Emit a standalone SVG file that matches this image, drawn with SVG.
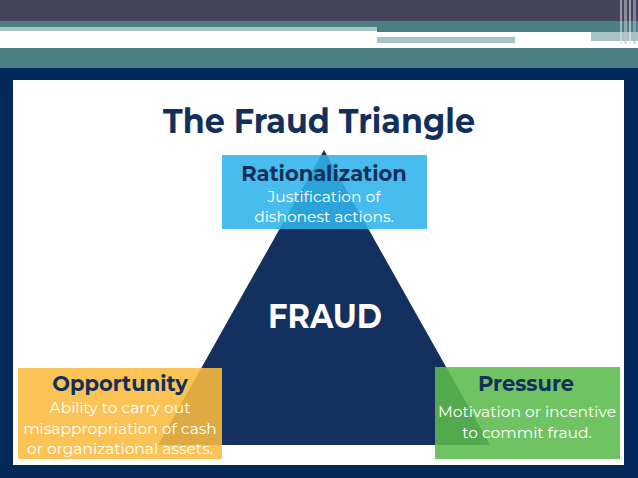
<svg xmlns="http://www.w3.org/2000/svg" width="638" height="478" viewBox="0 0 638 478">
<style>
.t{font-family:"Montserrat","Liberation Sans","DejaVu Sans",sans-serif;text-anchor:middle}
.h{font-weight:bold;fill:#13305c;font-size:21px}
.s{fill:#ffffff;font-size:15.5px}
</style>
<!-- header bands -->
<rect x="0" y="0" width="638" height="21" fill="#45445a"/>
<rect x="0" y="21" width="638" height="11" fill="#4a7f84"/>
<rect x="0" y="27" width="377" height="4" fill="#a7c3c6"/>
<rect x="0" y="31" width="377" height="17" fill="#ffffff"/>
<rect x="377" y="32" width="261" height="16" fill="#ffffff"/>
<rect x="377" y="37" width="138" height="6" fill="#a7c3c6"/>
<rect x="591" y="32" width="47" height="9" fill="#a7c3c6"/>
<rect x="0" y="48" width="638" height="20" fill="#4a7f84"/>
<g opacity="0.55">
<rect x="620" y="0" width="2" height="44" fill="#e0e0e8"/>
<rect x="624" y="0" width="3" height="44" fill="#c8c8d0"/>
<rect x="629" y="0" width="2" height="44" fill="#e8e8ee"/>
<rect x="633" y="0" width="3" height="44" fill="#b8b8c4"/>
</g>
<!-- frame -->
<rect x="0" y="68" width="638" height="410" fill="#03295a"/>
<rect x="13" y="80" width="611" height="385" fill="#ffffff"/>
<!-- title -->
<text id="title" class="t" x="319" y="133" font-size="34" font-weight="bold" fill="#13305c" textLength="312" lengthAdjust="spacingAndGlyphs">The Fraud Triangle</text>
<!-- triangle -->
<g id="fraud">
<polygon points="324,150 490,445 158,445" fill="#13305e"/>
<text class="t" x="325" y="328" font-size="34" font-weight="bold" fill="#ffffff" textLength="114" lengthAdjust="spacingAndGlyphs">FRAUD</text>
</g>
<g id="rationalization">
<rect x="222" y="155" width="205" height="74" fill="#2fb3ea" opacity="0.88"/>
<text class="t h" x="324" y="181">Rationalization</text>
<text class="t s" x="324" y="202">Justification of</text>
<text class="t s" x="324" y="222">dishonest actions.</text>
</g>
<g id="opportunity">
<rect x="18" y="368" width="204" height="91" fill="#fbbb3e" opacity="0.88"/>
<text class="t h" x="120" y="391">Opportunity</text>
<text class="t s" x="120" y="413">Ability to carry out</text>
<text class="t s" x="120" y="434">misappropriation of cash</text>
<text class="t s" x="120" y="454">or organizational assets.</text>
</g>
<g id="pressure">
<rect x="435" y="367" width="185" height="92" fill="#5cbb4c" opacity="0.88"/>
<text class="t h" x="526" y="391">Pressure</text>
<text class="t s" x="527" y="417">Motivation or incentive</text>
<text class="t s" x="527" y="438">to commit fraud.</text>
</g>
<g id="connectors"/>
</svg>
